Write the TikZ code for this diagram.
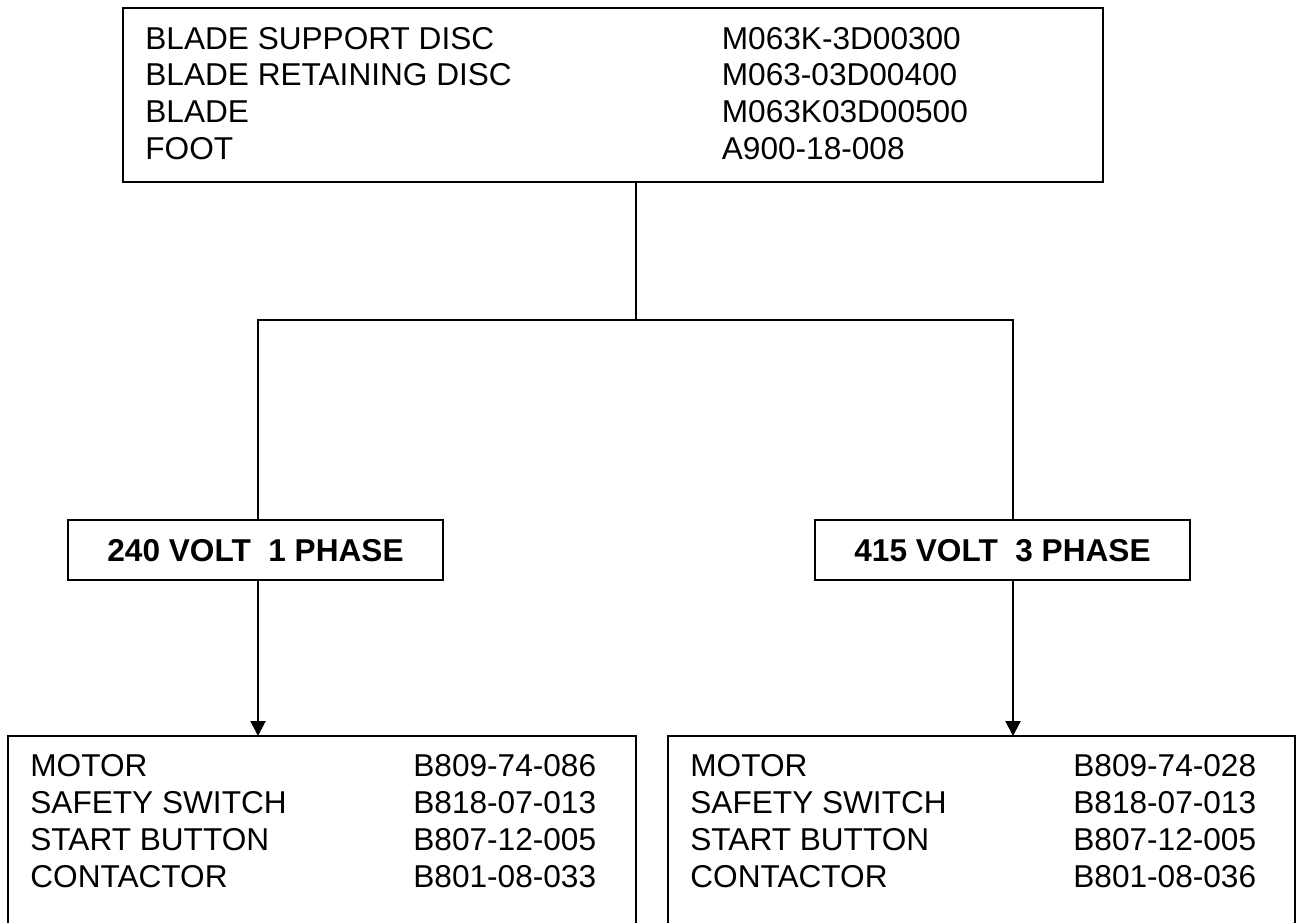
\documentclass[tikz,border=0pt]{standalone}
\usepackage{fontspec}
\setmainfont{Liberation Sans}
\usetikzlibrary{arrows.meta}
\begin{document}
\begin{tikzpicture}[x=0.5pt,y=-0.5pt,
  box/.style={draw, line width=1pt, inner sep=0pt, outer sep=0pt, rectangle},
  lbl/.style={anchor=base west, inner sep=0pt, font=\fontsize{15.8pt}{18pt}\selectfont},
  hdr/.style={anchor=base, inner sep=0pt, font=\fontsize{15.8pt}{18pt}\selectfont\bfseries},
  link/.style={line width=1pt},
  arr/.style={line width=1pt, -{Triangle[length=7.5pt,width=7.5pt]}}]
\useasboundingbox (0,0) rectangle (1299,922);
\clip (0,0) rectangle (1299,922);
% boxes
\node[box, minimum width=489.8pt, minimum height=86.7pt] (top) at (613.2,95) {};
\node[box, minimum width=187.35pt, minimum height=30.15pt] (ml) at (255.7,550.2) {};
\node[box, minimum width=187.35pt, minimum height=30.15pt] (mr) at (1002.5,550.2) {};
\node[box, minimum width=313.65pt, minimum height=132pt] (bl) at (322,868) {};
\node[box, minimum width=313.65pt, minimum height=132pt] (br) at (981.6,868) {};
% top box text
\node[lbl] (t1) at (145,49.3) {BLADE SUPPORT DISC};
\node[lbl] (t2) at (145,85.9) {BLADE RETAINING DISC};
\node[lbl] (t3) at (145,122.5) {BLADE};
\node[lbl] (t4) at (145,159.1) {FOOT};
\node[lbl] (p1) at (721.5,49.3) {M063K-3D00300};
\node[lbl] (p2) at (721.5,85.9) {M063-03D00400};
\node[lbl] (p3) at (721.5,122.5) {M063K03D00500};
\node[lbl] (p4) at (721.5,159.1) {A900-18-008};
% headers
\node[hdr] (h1) at (255.5,561) {240 VOLT\ \ 1 PHASE};
\node[hdr] (h2) at (1002.5,561) {415 VOLT\ \ 3 PHASE};
% bottom left text
\node[lbl] (l1) at (30,776.3) {MOTOR};
\node[lbl] (l2) at (30,813.2) {SAFETY SWITCH};
\node[lbl] (l3) at (30,850.1) {START BUTTON};
\node[lbl] (l4) at (30,887) {CONTACTOR};
\node[lbl] (lp1) at (413,776.3) {B809-74-086};
\node[lbl] (lp2) at (413,813.2) {B818-07-013};
\node[lbl] (lp3) at (413,850.1) {B807-12-005};
\node[lbl] (lp4) at (413,887) {B801-08-033};
% bottom right text
\node[lbl] (r1) at (690,776.3) {MOTOR};
\node[lbl] (r2) at (690,813.2) {SAFETY SWITCH};
\node[lbl] (r3) at (690,850.1) {START BUTTON};
\node[lbl] (r4) at (690,887) {CONTACTOR};
\node[lbl] (rp1) at (1073,776.3) {B809-74-028};
\node[lbl] (rp2) at (1073,813.2) {B818-07-013};
\node[lbl] (rp3) at (1073,850.1) {B807-12-005};
\node[lbl] (rp4) at (1073,887) {B801-08-036};
% connectors
\coordinate (J) at (636,320);
\coordinate (JL) at (258,320);
\coordinate (JR) at (1013,320);
\draw[link] (top.south -| J) -- (J);
\draw[link] (ml.north -| JL) -- (JL) -- (JR) -- (mr.north -| JR);
\draw[arr] (ml.south -| JL) -- (bl.north -| JL);
\draw[arr] (mr.south -| JR) -- (br.north -| JR);
\end{tikzpicture}
\end{document}
